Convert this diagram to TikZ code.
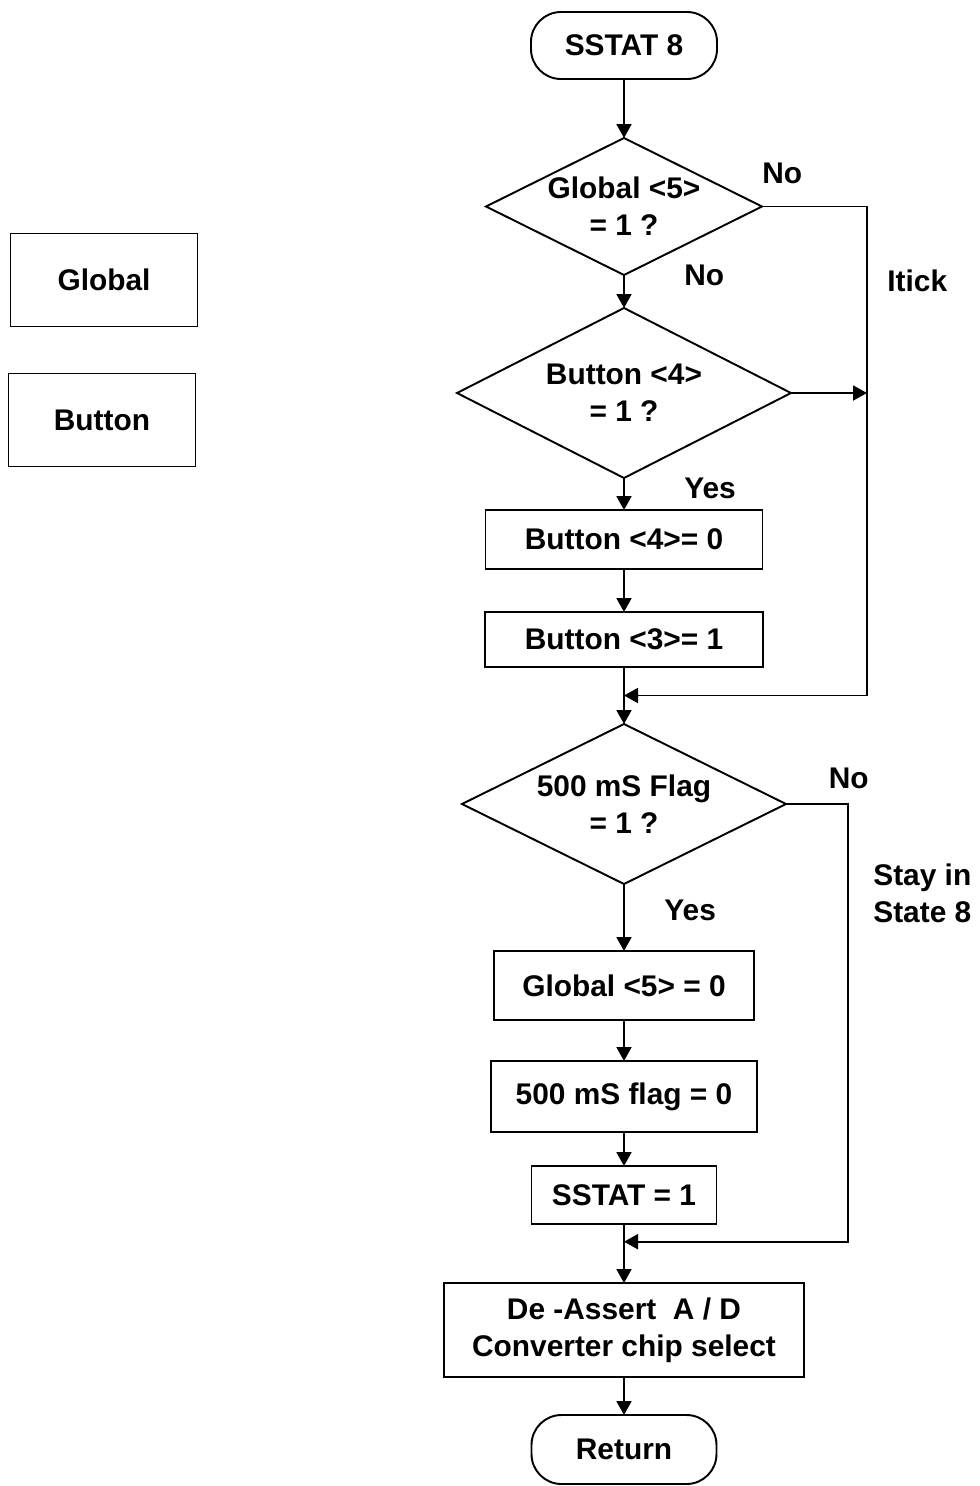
\documentclass[tikz,border=0pt]{standalone}
\usepackage{fontspec}
\setmainfont{Liberation Sans}
\usepackage{tikz}
\usetikzlibrary{positioning, calc, shapes.geometric, arrows.meta}
\newcommand{\flowfont}{\bfseries\fontsize{17}{21}\selectfont}

\begin{document}
\begin{tikzpicture}[
    node distance=0.8cm,
    term/.style={rectangle, draw, rounded corners=0.6cm, line width=1.1pt,
                 minimum width=3.72cm, minimum height=1.34cm, align=center,
                 outer sep=0pt, font=\flowfont},
    cond/.style={diamond, draw, aspect=2, inner sep=0pt, outer sep=0pt,
                 line width=1.1pt, align=center, font=\flowfont},
    act/.style={rectangle, draw, line width=1.1pt, align=center,
                outer sep=0pt, font=\flowfont},
    reg/.style={rectangle, draw, line width=1.1pt, minimum width=3.74cm,
                minimum height=1.86cm, font=\flowfont},
    arrow/.style={-{Triangle[length=0.28cm, width=0.3cm]}, line width=1.1pt},
    note/.style={inner sep=0pt, align=left, font=\flowfont},
  ]
    \useasboundingbox (0,0) rectangle (19.6,-29.72);

    % Main column
    \node[term] (start) at (12.48,-0.91) {SSTAT 8};
    \node[cond, below=1.18cm of start, minimum width=5.52cm, minimum height=2.74cm] (g5) {Global <5>\\= 1 ?};
    \node[cond, below=0.66cm of g5, minimum width=6.68cm, minimum height=3.40cm] (b4) {Button <4>\\= 1 ?};
    \node[act, below=0.64cm of b4, minimum width=5.54cm, minimum height=1.18cm] (clr4) {Button <4>= 0};
    \node[act, below=0.86cm of clr4, minimum width=5.56cm, minimum height=1.10cm] (set3) {Button <3>= 1};
    \node[cond, below=1.14cm of set3, minimum width=6.48cm, minimum height=3.20cm] (flag) {500 mS Flag\\= 1 ?};
    \node[act, below=1.34cm of flag, minimum width=5.20cm, minimum height=1.38cm] (clr5) {Global <5> = 0};
    \node[act, below=0.82cm of clr5, minimum width=5.32cm, minimum height=1.42cm] (clrf) {500 mS flag = 0};
    \node[act, below=0.68cm of clrf, minimum width=3.70cm, minimum height=1.16cm] (sst1) {SSTAT = 1};
    \node[act, below=1.18cm of sst1, minimum width=7.20cm, minimum height=1.88cm] (adcs) {De -Assert\ \ A / D\\Converter chip select};
    \node[term, below=0.76cm of adcs, minimum width=3.70cm, minimum height=1.38cm] (ret) {Return};

    \draw[arrow] (start) -- (g5);
    \draw[arrow] (g5) -- (b4);
    \draw[arrow] (b4) -- (clr4);
    \draw[arrow] (clr4) -- (set3);
    \draw[arrow] (set3) -- (flag);
    \draw[arrow] (flag) -- (clr5);
    \draw[arrow] (clr5) -- (clrf);
    \draw[arrow] (clrf) -- (sst1);
    \draw[arrow] (sst1) -- (adcs);
    \draw[arrow] (adcs) -- (ret);

    % Side rails
    \coordinate (join1) at ($(set3.south)!0.5!(flag.north)$);
    \coordinate (join2) at ($(sst1.south)!0.3!(adcs.north)$);
    \coordinate (rail1) at (17.34,0);
    \coordinate (rail2) at (16.96,0);
    \draw[arrow] (g5.east) -| (rail1 |- join1) -- (join1);
    \draw[arrow] (b4.east) -- (b4.east -| rail1);
    \draw[arrow] (flag.east) -| (rail2 |- join2) -- (join2);

    % Labels
    \node[note, above right=0.45cm and 0cm of g5.east] (no1) {No};
    \node[note, right=1.2cm of g5.south] (no2) {No};
    \node[note, anchor=west] (itick) at (17.74,-5.62) {Itick};
    \node[note, below right=0cm and 1.2cm of b4.south] (yes1) {Yes};
    \node[note, above right=0.3cm and 0.85cm of flag.east] (no3) {No};
    \node[note, anchor=west] (stay) at (17.46,-17.86) {Stay in\\State 8};
    \node[note, below right=0.32cm and 0.8cm of flag.south] (yes2) {Yes};

    % Registers
    \node[reg] (glob) at (2.08,-5.60) {Global};
    \node[reg] (butt) at (2.04,-8.40) {Button};
\end{tikzpicture}
\end{document}
